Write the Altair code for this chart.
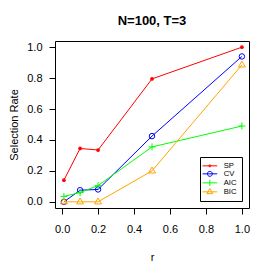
import altair as alt
import pandas as pd

r_vals = [0.01, 0.1, 0.2, 0.5, 1.0]
sp = [0.14, 0.345, 0.335, 0.795, 1.0]
cv = [0.0, 0.075, 0.08, 0.425, 0.94]
aic = [0.035, 0.06, 0.105, 0.355, 0.49]
bic = [0.0, 0.0, 0.0, 0.2, 0.885]

series_names = ["SP", "CV", "AIC", "BIC"]
series_colors = ["#FF0000", "#0000FF", "#00FF00", "#FFA500"]
series_values = [sp, cv, aic, bic]

rows = []
for name, vals in zip(series_names, series_values):
    for x, y in zip(r_vals, vals):
        rows.append({"r": x, "rate": y, "series": name})
df = pd.DataFrame(rows)

FONT = "Liberation Sans"
ticks = [0.0, 0.2, 0.4, 0.6, 0.8, 1.0]

xscale = alt.Scale(domain=[-0.0396, 1.0396], nice=False, zero=False)
yscale = alt.Scale(domain=[-0.04, 1.04], nice=False, zero=False)

xenc = alt.X("r:Q", scale=xscale,
             axis=alt.Axis(values=ticks, format=".1f", title="r", grid=False,
                           titleY=52, titleBaseline="alphabetic"))
yenc = alt.Y("rate:Q", scale=yscale,
             axis=alt.Axis(values=ticks, format=".1f", title="Selection Rate", grid=False,
                           titleX=-38, titleBaseline="alphabetic", titleAngle=-90))

marker_defs = {
    "SP": dict(shape="circle", filled=True, size=14),
    "CV": dict(shape="circle", filled=False, size=30),
    "AIC": dict(shape="M-1,0H1M0,-1V1", filled=False, size=49),
    "BIC": dict(shape="M0,-1.1L1,0.6L-1,0.6Z", filled=False, size=49),
}

layers = []
for name, color in zip(series_names, series_colors):
    base = alt.Chart(df).transform_filter(alt.datum.series == name)
    layers.append(base.mark_line(color=color, strokeWidth=1, clip=False).encode(x=xenc, y=yenc))
    md = marker_defs[name]
    layers.append(base.mark_point(color=color, strokeWidth=1, opacity=1, **md).encode(x=xenc, y=yenc))

legend_paths = [
    "M-2.45,0H2.45M-0.35,0A0.35,0.35 0 1,0 0.35,0A0.35,0.35 0 1,0 -0.35,0",
    "M-2.45,0H2.45M-0.83,0A0.83,0.83 0 1,0 0.83,0A0.83,0.83 0 1,0 -0.83,0",
    "M-2.45,0H2.45M0,-1V1",
    "M-2.45,0H2.45M0,-1.1L1,0.6L-1,0.6Z",
]
legend_layer = alt.Chart(df).transform_filter("false").mark_point(
    filled=False, strokeWidth=1, size=36, opacity=1
).encode(
    x=xenc, y=yenc,
    color=alt.Color("series:N", scale=alt.Scale(domain=series_names, range=series_colors),
                    legend=alt.Legend(title=None, orient="none", legendX=145, legendY=116,
                                      strokeColor="black", fillColor="white", padding=5,
                                      labelFont=FONT, labelFontSize=7.7, labelColor="black",
                                      symbolSize=36, symbolStrokeWidth=1, labelOffset=10,
                                      symbolOffset=1, rowPadding=-2.5, cornerRadius=0)),
    shape=alt.Shape("series:N", scale=alt.Scale(domain=series_names, range=legend_paths),
                    legend=alt.Legend(title=None, orient="none", legendX=145, legendY=116)),
)

chart = alt.layer(*layers, legend_layer).properties(
    width=194, height=167,
    title=alt.TitleParams("N=100, T=3", font=FONT, fontSize=13, fontWeight="bold",
                          anchor="middle", baseline="alphabetic", offset=3.5, color="black"),
    padding={"left": 47, "top": 33, "right": 20, "bottom": 70},
    autosize=alt.AutoSizeParams(type="none"),
).configure_view(
    stroke="black", strokeWidth=1
).configure_axis(
    domain=False, tickColor="black", tickSize=6, tickWidth=1,
    labelFont=FONT, labelFontSize=11, labelColor="black",
    titleFont=FONT, titleFontSize=11, titleColor="black", titleFontWeight="normal",
    labelPadding=7
).configure_axisX(labelPadding=9).configure_axisY(labelPadding=7, labelAngle=0)

chart.save("out.html", embed_options={"renderer": "svg", "actions": False})
